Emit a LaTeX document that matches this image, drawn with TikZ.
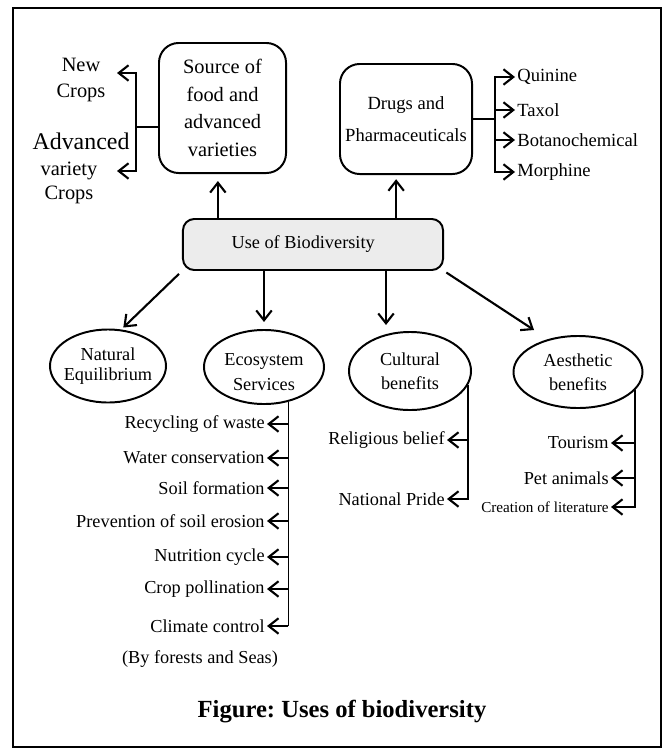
\documentclass[tikz,border=0pt]{standalone}
\usepackage{fontspec}
\setmainfont{Liberation Serif}
\usetikzlibrary{positioning,arrows.meta,shapes.geometric}
\frenchspacing
\tikzset{
  rbox/.style={draw=black, line width=1.4pt, rounded corners=14pt, align=center},
  ellip/.style={draw=black, ellipse, line width=1.4pt},
  etext/.style={align=center, font=\fontsize{13}{17}\selectfont},
  link/.style={line width=1.5pt, -{Straight Barb[length=7pt,width=11pt]}},
  stem/.style={line width=1.5pt},
  item/.style={font=\fontsize{13}{15}\selectfont, inner sep=1.5pt},
  top/.style={font=\fontsize{14.5}{18.5}\selectfont, align=center, inner sep=0pt}
}

\begin{document}
\begin{tikzpicture}[x=0.025cm, y=-0.025cm]
    \useasboundingbox (0,0) rectangle (664,750);
    \draw[line width=1.5pt] (13,8) rectangle (661,747);

    % boxes
    \node[rbox, fill=gray!15, rounded corners=8pt, minimum width=6.5cm, minimum height=1.275cm,
          font=\fontsize{13}{15}\selectfont] (use) at (313,244.5) {Use of Biodiversity\hspace{14pt}};
    \node[rbox, minimum width=3.175cm, minimum height=3.25cm,
          font=\fontsize{14.5}{19.5}\selectfont] (src) at (222.5,108) {Source of\\food and\\advanced\\varieties};
    \node[rbox, minimum width=3.3cm, minimum height=2.75cm,
          font=\fontsize{13.2}{23}\selectfont] (drg) at (406,119) {Drugs and\\Pharmaceuticals};

    % ellipses
    \node[ellip, minimum width=2.9cm, minimum height=1.825cm,
          label={[etext, font=\fontsize{13}{14.5}\selectfont]center:{Natural\\Equilibrium}}] (nat) at (108,366) {};
    \node[ellip, minimum width=3cm, minimum height=1.85cm,
          label={[etext, font=\fontsize{13}{18}\selectfont, yshift=-3.5pt]center:{Ecosystem\\Services}}] (eco) at (264,367) {};
    \node[ellip, minimum width=3.05cm, minimum height=1.95cm,
          label={[etext]center:{Cultural\\benefits}}] (cul) at (410,371) {};
    \node[ellip, minimum width=3.225cm, minimum height=1.8cm,
          label={[etext]center:{Aesthetic\\benefits}}] (aes) at (578,372) {};

    % arrows out of the main box
    \coordinate (cul-in) at (386,325);
    \coordinate (aes-in) at (534,330);
    \draw[link, shorten >=5pt] (use.north -| src.-94) -- (src.-94);
    \draw[link, shorten >=3pt] (use.north -| drg.-100) -- (drg.-100);
    \draw[link, shorten <=3pt, shorten >=2pt] (use.south west) -- (nat.70);
    \draw[link, shorten >=5pt] (use.south -| eco.north) -- (eco.north);
    \draw[link] (use.south -| cul-in) -- (cul-in);
    \draw[link, shorten <=2pt] (use.south east) -- (aes-in);

    % source of food
    \coordinate (srcj) at (136,127);
    \coordinate (newc) at (117,73);
    \coordinate (varc) at (117,171);
    \node[top] (newcr) at (81,80) {New\\Crops};
    \node[top, font=\fontsize{17}{18}\selectfont] (adv) at (81,141) {Advanced};
    \node[top, font=\fontsize{14.5}{16.5}\selectfont] (varcr) at (69,183) {variety\\Crops};
    \draw[stem, line width=1.9pt] (src.west |- srcj) -- (srcj);
    \draw[link] (srcj) |- (newc);
    \draw[link] (srcj) |- (varc);

    % drugs
    \coordinate (drgj) at (495,119);
    \foreach \nm/\txt/\yy in {qui/Quinine/77, tax/Taxol/110, bot/Botanochemical/140, mor/Morphine/172}
      \node[item, font=\fontsize{13.2}{15}\selectfont, anchor=west] (\nm) at (515,\yy) {\txt};
    \draw[stem, line width=1.9pt] (drg.east) -- (drgj);
    \draw[link] (drgj) |- (qui.west);
    \draw[link] (drgj) |- (mor.west);
    \draw[link] (drgj |- tax.west) -- (tax.west);
    \draw[link] (drgj |- bot.west) -- (bot.west);

    % ecosystem services
    \foreach \nm/\txt/\yy in {rec/Recycling of waste/424, wat/Water conservation/458, soi/Soil formation/488,
      pre/Prevention of soil erosion/521, nut/Nutrition cycle/557, cro/Crop pollination/589, cli/Climate control/626}
      \node[item, anchor=east] (\nm) at (267,\yy) {\txt};
    \node[item] (bfs) at (200,659) {(By forests and Seas)};
    \draw[line width=0.8pt] (eco.-55) -- (eco.-55 |- cli.east);
    \foreach \nm in {rec,wat,soi,pre,nut,cro,cli}
      \draw[link] (eco.-55 |- \nm.east) -- (\nm.east);

    % cultural benefits
    \node[item, anchor=east] (rel) at (447,440) {Religious belief};
    \node[item, anchor=east] (nap) at (447,499) {National Pride};
    \draw[link] (cul.-14) |- (nap.east);
    \draw[link] (cul.-14 |- rel.east) -- (rel.east);

    % aesthetic benefits
    \node[item, anchor=east] (tou) at (611,443) {Tourism};
    \node[item, anchor=east] (pet) at (611,478) {Pet animals};
    \node[item, anchor=east, font=\fontsize{10.8}{12}\selectfont] (cre) at (611,507) {Creation of literature};
    \draw[link] (aes.-18) |- (cre.east);
    \draw[link] (aes.-18 |- tou.east) -- (tou.east);
    \draw[link] (aes.-18 |- pet.east) -- (pet.east);

    \node[font=\bfseries\fontsize{17.5}{20}\selectfont] (title) at (342,712) {Figure: Uses of biodiversity};

\end{tikzpicture}
\end{document}
